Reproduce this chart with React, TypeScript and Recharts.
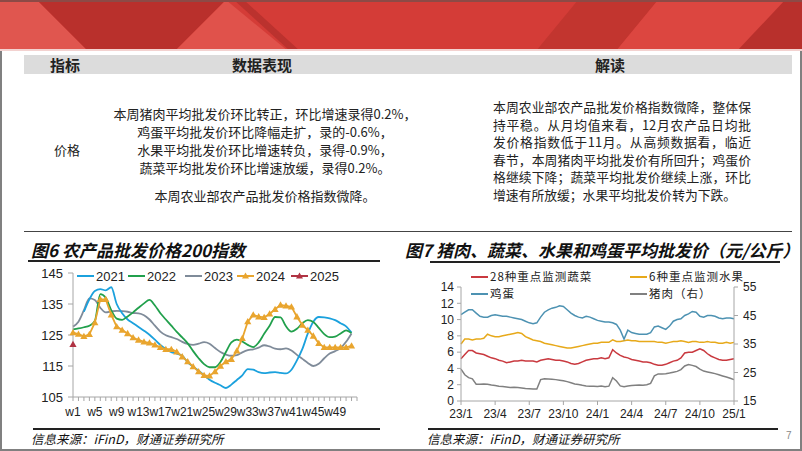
import React from 'react';
import { LineChart, Line, XAxis, YAxis, Legend } from 'recharts';

const SANS = '"Liberation Sans", Arial, sans-serif';
const CJK = '"Noto Sans CJK SC", "Noto Sans", sans-serif';

// 图6 农产品批发价格200指数（按周）
const weeks = Array.from({ length: 53 }, (_, i) => `w${i + 1}`);
const idx2021 = [null, null, 132.5, 136.5, 139.2, 139.8, 139.4, 140.4, 135.0, 132.0, 130.0, 128.8, 127.6, 126.4, 125.1, 123.5, 121.8, 120.5, 119.5, 119.0, 118.3, 116.2, 114.8, 113.5, 112.0, 110.6, 109.6, 108.8, 107.9, 109.0, 110.5, 112.0, 114.0, 113.8, 113.0, 112.7, 112.9, 113.0, 112.8, 112.6, 113.8, 116.8, 120.5, 125.5, 129.3, 130.8, 130.7, 130.4, 129.8, 128.8, 127.8, 125.8, null];
const idx2022 = [126.8, 127.1, 127.5, 128.0, 129.5, 138.2, 137.0, 133.0, 130.3, 129.9, 131.0, 132.3, 133.8, 135.2, 136.3, 134.5, 132.0, 130.0, 128.0, 126.0, 124.2, 122.3, 119.8, 117.5, 115.6, 114.6, 114.6, 116.3, 119.5, 122.6, 123.5, 122.9, 121.8, 121.1, 122.6, 125.4, 128.0, 130.8, 130.7, 127.8, 126.1, 127.0, 128.8, 129.8, 129.2, 127.3, 125.3, 124.3, 124.5, 125.5, 126.5, 125.6, null];
const idx2023 = [127.7, 129.3, 133.0, 136.8, 136.3, 133.8, 132.3, 132.6, 132.8, 132.7, 132.5, 132.1, 132.0, 131.4, 130.0, 128.0, 126.1, 124.9, 124.3, 123.7, 122.8, 122.1, 121.8, 122.2, 122.7, 122.2, 120.8, 119.5, 118.7, 118.3, 118.5, 119.4, 120.1, 120.4, 120.9, 121.7, 121.3, 120.6, 120.4, 120.7, 120.0, 118.6, 117.3, 116.0, 115.0, 115.7, 117.5, 119.0, 119.8, 120.8, 122.8, 125.5, null];
const idx2024 = [125.8, 125.3, 124.6, 125.2, 129.0, 136.5, 136.5, 131.5, 127.7, 126.6, 125.5, 124.2, 123.4, 122.8, 122.5, 121.8, 121.0, 120.4, 120.4, 119.6, 118.0, 116.4, 114.8, 113.2, 112.0, 111.8, 113.2, 115.0, 116.4, 117.2, 119.9, 123.9, 129.3, 131.5, 130.9, 130.7, 131.8, 133.3, 134.7, 134.4, 134.1, 130.9, 128.2, 126.6, 124.7, 122.3, 121.0, 121.0, 121.0, 121.0, 121.0, 121.5, null];
const idx2025 = [122.0];
const indexTicks = [105, 115, 125, 135, 145];
const weekLabels = weeks.filter((_, i) => i % 4 === 0 && i < 52);

const indexData = weeks.map((w, i) => ({
  w,
  y2021: idx2021[i] ?? null,
  y2022: idx2022[i] ?? null,
  y2023: idx2023[i] ?? null,
  y2024: idx2024[i] ?? null,
  y2025: idx2025[i] ?? null,
}));

// 图7 猪肉、蔬菜、水果和鸡蛋平均批发价（约每10天一个读数）
const months = ['23/1', '23/2', '23/3', '23/4', '23/5', '23/6', '23/7', '23/8', '23/9', '23/10', '23/11', '23/12',
  '24/1', '24/2', '24/3', '24/4', '24/5', '24/6', '24/7', '24/8', '24/9', '24/10', '24/11', '24/12', '25/1'];
const days = ['1', '11', '21'];
const dates = months.flatMap((m, i) => (i === months.length - 1 ? [`${m}/1`] : days.map((d) => `${m}/${d}`)));
const quarterTicks = dates.filter((_, i) => i % 9 === 0);

const vegetable = [5.2, 5.7, 6.2, 6.2, 5.9, 5.8, 5.7, 5.5, 5.3, 5.2, 5.0, 4.9, 4.7, 4.8, 4.9, 4.9, 5.0, 4.9, 4.9, 4.9, 4.8, 5.0, 5.1, 5.2, 5.1, 5.0, 5.0, 4.9, 4.8, 4.6, 4.5, 4.6, 4.8, 5.0, 5.1, 5.2, 5.2, 5.3, 5.2, 5.3, 6.3, 5.9, 5.6, 5.4, 5.3, 5.1, 5.0, 4.9, 4.8, 4.8, 4.7, 4.5, 4.4, 4.4, 4.5, 4.7, 4.9, 5.0, 5.3, 5.9, 6.0, 6.0, 6.2, 6.4, 6.2, 5.8, 5.5, 5.3, 5.1, 5.0, 5.0, 5.1, 5.2];
const fruit = [7.0, 7.6, 7.6, 7.5, 7.6, 7.6, 7.7, 8.2, 8.0, 7.9, 7.9, 8.0, 8.1, 8.2, 8.3, 8.4, 8.3, 7.9, 7.7, 7.5, 7.4, 7.3, 7.1, 7.0, 6.9, 6.8, 6.7, 6.6, 6.5, 6.5, 6.6, 6.7, 6.8, 6.9, 7.0, 7.1, 7.1, 7.2, 7.2, 7.2, 7.5, 7.3, 7.3, 7.4, 7.5, 7.4, 7.4, 7.3, 7.3, 7.3, 7.3, 7.3, 7.2, 7.2, 7.1, 7.2, 7.3, 7.3, 7.4, 7.3, 7.2, 7.3, 7.3, 7.2, 7.2, 7.3, 7.2, 7.2, 7.1, 7.1, 7.2, 7.1, 7.2];
const egg = [10.6, 10.9, 11.2, 11.2, 10.8, 10.4, 10.3, 10.3, 10.5, 10.6, 10.5, 10.4, 10.4, 10.3, 10.2, 10.1, 10.0, 9.8, 9.6, 9.5, 9.6, 10.3, 10.9, 11.2, 11.4, 11.5, 11.7, 11.6, 11.2, 10.8, 10.5, 10.3, 10.2, 10.4, 10.3, 10.1, 9.9, 9.8, 9.7, 9.7, 9.6, 9.4, 8.7, 7.6, 8.7, 8.4, 8.3, 8.2, 8.2, 8.2, 8.4, 9.1, 9.2, 9.0, 8.8, 9.2, 9.8, 10.0, 10.1, 10.5, 10.7, 11.0, 10.9, 10.4, 10.3, 10.5, 10.5, 10.4, 10.2, 10.1, 10.2, 10.2, 10.1];
const pork = [26.2, 24.2, 23.2, 22.8, 20.9, 20.9, 21.0, 20.9, 20.6, 20.4, 20.2, 20.1, 19.9, 19.7, 19.8, 19.7, 19.6, 19.4, 19.3, 19.2, 19.2, 22.5, 22.8, 22.7, 22.6, 22.5, 22.3, 22.1, 21.8, 21.4, 21.0, 20.8, 20.5, 20.3, 20.2, 20.2, 20.1, 20.3, 20.0, 20.2, 23.2, 22.0, 20.3, 20.0, 20.3, 20.4, 20.5, 20.6, 20.5, 20.7, 21.2, 23.8, 24.5, 24.5, 24.6, 24.8, 25.1, 25.4, 26.0, 27.3, 27.8, 27.5, 27.1, 26.2, 25.5, 25.2, 24.9, 24.6, 24.2, 23.8, 23.4, 23.0, 22.5];
const leftTicks = [0, 2, 4, 6, 8, 10, 12, 14];
const rightTicks = [15, 25, 35, 45, 55];

const priceData = dates.map((d, i) => ({
  d,
  vegetable: vegetable[i],
  fruit: fruit[i],
  egg: egg[i],
  pork: pork[i],
}));

const C2021 = '#1ba1dd';
const C2022 = '#21a04c';
const C2023 = '#7f8b99';
const C2024 = '#e9a52e';
const C2025 = '#b03343';
const CVEG = '#c9393f';
const CFRUIT = '#e7a91a';
const CEGG = '#4d92b2';
const CPORK = '#808080';
const AXIS = '#a6a6a6';

function triangle(color: string, size = 3.6) {
  return (props: any) => {
    const { cx, cy, value, index } = props;
    if (cx == null || cy == null || value == null) return <g key={index} />;
    return (
      <polygon
        key={index}
        points={`${cx},${cy - size} ${cx - size},${cy + size * 0.75} ${cx + size},${cy + size * 0.75}`}
        fill={color}
      />
    );
  };
}

function WeekTick(props: any) {
  const { x, y, payload } = props;
  if (!weekLabels.includes(payload.value)) return <g />;
  return (
    <text x={x} y={y} dy="0.71em" textAnchor="middle" fontSize={12} fill="#222" fontFamily={SANS}>
      {payload.value}
    </text>
  );
}

type LegendItem = { x: number; y: number; label: string; color: string; mark?: boolean };

function LegendRows({ items, fontSize, family, width, spacing = 0 }: { items: LegendItem[]; fontSize: number; family: string; width: number; spacing?: number }) {
  return (
    <div style={{ position: 'relative', width, height: 40 }}>
      {items.map((it) => (
        <React.Fragment key={it.label}>
          <svg width={18} height={10} style={{ position: 'absolute', left: it.x, top: it.y - 5 }}>
            <line x1={0} x2={17} y1={5} y2={5} stroke={it.color} strokeWidth={2} />
            {it.mark && <polygon points="8.5,1.5 5,7.5 12,7.5" fill={it.color} />}
          </svg>
          <div
            style={{
              position: 'absolute',
              left: it.x + 19,
              top: it.y - 7.5,
              height: 15,
              lineHeight: '15px',
              fontSize,
              letterSpacing: spacing,
              fontFamily: family,
              color: '#222',
              whiteSpace: 'nowrap',
            }}
          >
            {it.label}
          </div>
        </React.Fragment>
      ))}
    </div>
  );
}

const indexLegend: LegendItem[] = [
  { x: 77, y: 9, label: '2021', color: C2021 },
  { x: 128, y: 9, label: '2022', color: C2022 },
  { x: 185, y: 9, label: '2023', color: C2023 },
  { x: 237, y: 9, label: '2024', color: C2024, mark: true },
  { x: 291, y: 9, label: '2025', color: C2025, mark: true },
];
const priceLegend: LegendItem[] = [
  { x: 71, y: 11.5, label: '28种重点监测蔬菜', color: CVEG },
  { x: 230, y: 11.5, label: '6种重点监测水果', color: CFRUIT },
  { x: 71, y: 28.5, label: '鸡蛋', color: CEGG },
  { x: 230, y: 28.5, label: '猪肉（右）', color: CPORK },
];

function Banner() {
  return (
    <svg width={802} height={51} style={{ position: 'absolute', left: 0, top: 0 }}>
      <rect x={0} y={0} width={802} height={51} fill="#d43c37" />
      <polygon points="0,0 37,0 88,51 0,51" fill="#e0564f" />
      <polygon points="37,0 226,0 175,51 88,51" fill="#b9302c" />
      <polygon points="226,0 175,51 288,51" fill="#e0524b" />
      <polygon points="234,0 244,0 300,51 290,51" fill="#bb322e" />
      <polygon points="578,0 658,0 616,51 536,51" fill="#c2352f" />
      <polygon points="658,0 802,0 802,51 616,51" fill="#dc4640" />
      <polygon points="785,0 802,0 802,51 737,51" fill="#b8302c" />
      <rect x={0} y={0} width={802} height={2} fill="#8d4a46" />
      <rect x={0} y={49} width={802} height={2} fill="#f3d2d0" />
    </svg>
  );
}

const cell = (left: number, top: number, width: number, extra: React.CSSProperties = {}): React.CSSProperties => ({
  position: 'absolute',
  left,
  top,
  width,
  height: 17,
  lineHeight: '17px',
  whiteSpace: 'nowrap',
  ...extra,
});

const middleLines = [
  '本周猪肉平均批发价环比转正，环比增速录得0.2%，',
  '鸡蛋平均批发价环比降幅走扩，录的-0.6%，',
  '水果平均批发价环比增速转负，录得-0.9%，',
  '蔬菜平均批发价环比增速放缓，录得0.2%。',
];
const middleTops = [105, 123, 141, 159];
const readingLines = [
  '本周农业部农产品批发价格指数微降，整体保',
  '持平稳。从月均值来看，12月农产品日均批',
  '发价格指数低于11月。从高频数据看，临近',
  '春节，本周猪肉平均批发价有所回升；鸡蛋价',
  '格继续下降；蔬菜平均批发价继续上涨，环比',
  '增速有所放缓；水果平均批发价转为下跌。',
];

export default function App() {
  const titleStyle: React.CSSProperties = {
    position: 'absolute',
    top: 239,
    fontFamily: CJK,
    fontWeight: 700,
    fontStyle: 'italic',
    fontSize: 17,
    lineHeight: '22px',
    color: '#111',
    whiteSpace: 'nowrap',
  };
  const footStyle: React.CSSProperties = {
    position: 'absolute',
    top: 430,
    fontFamily: CJK,
    fontStyle: 'italic',
    fontSize: 12.5,
    lineHeight: '18px',
    color: '#111',
    whiteSpace: 'nowrap',
  };
  const rule = (left: number, top: number, width: number, color = '#222', h = 1.5): React.CSSProperties => ({
    position: 'absolute',
    left,
    top,
    width,
    height: h,
    background: color,
  });

  return (
    <div
      style={{
        position: 'absolute',
        left: 0,
        top: 0,
        width: 802,
        height: 451,
        background: '#fff',
        overflow: 'hidden',
        fontFamily: CJK,
        color: '#222',
      }}
    >
      <Banner />
      <div
        style={{
          position: 'absolute',
          left: 0,
          top: 51,
          width: 802,
          height: 400,
          boxSizing: 'border-box',
          borderLeft: '2px solid #808080',
          borderRight: '2px solid #808080',
          borderBottom: '2px solid #808080',
        }}
      />

      {/* table */}
      <div style={{ position: 'absolute', left: 24, top: 55, width: 768, height: 19, background: '#dcdcdc' }} />
      <div style={cell(35, 56, 60, { textAlign: 'center', fontWeight: 700, fontSize: 15 })}>指标</div>
      <div style={cell(200, 56, 124, { textAlign: 'center', fontWeight: 700, fontSize: 15 })}>数据表现</div>
      <div style={cell(570, 56, 80, { textAlign: 'center', fontWeight: 700, fontSize: 15 })}>解读</div>
      <div style={cell(37, 141, 60, { textAlign: 'center', fontSize: 13 })}>价格</div>
      {middleLines.map((t, i) => (
        <div key={t} style={cell(105, middleTops[i], 320, { textAlign: 'center', fontSize: 13 })}>
          {t}
        </div>
      ))}
      <div style={cell(105, 187, 320, { textAlign: 'center', fontSize: 13 })}>本周农业部农产品批发价格指数微降。</div>
      {readingLines.map((t, i) => (
        <div
          key={t}
          style={cell(493, 98 + i * 17.5, 258, {
            fontSize: 12.8,
            textAlign: i === readingLines.length - 1 ? 'left' : 'justify',
            textAlignLast: i === readingLines.length - 1 ? 'left' : 'justify',
            whiteSpace: 'normal',
            overflow: 'hidden',
          })}
        >
          {t}
        </div>
      ))}
      <div style={rule(24, 231, 768, '#444', 1)} />

      {/* 图6 */}
      <div style={{ ...titleStyle, left: 31 }}>图6 农产品批发价格200指数</div>
      <div style={rule(28, 260, 352)} />
      <div style={{ position: 'absolute', left: 0, top: 260 }}>
        <LineChart width={400} height={167} data={indexData} margin={{ top: 13, right: 43, bottom: 0, left: 8 }}>
          <XAxis
            dataKey="w"
            ticks={weeks}
            interval={0}
            tick={<WeekTick />}
            tickSize={4}
            tickMargin={6}
            height={30}
            stroke={AXIS}
            tickLine={{ stroke: AXIS }}
          />
          <YAxis
            domain={[105, 145]}
            ticks={indexTicks}
            interval={0}
            width={65}
            tickSize={5}
            tickMargin={5}
            stroke={AXIS}
            tick={{ fontSize: 13, fill: '#222', fontFamily: SANS }}
          />
          <Legend
            content={() => <LegendRows items={indexLegend} fontSize={13} family={SANS} width={400} />}
            layout="vertical"
            align="center"
            verticalAlign="middle"
            wrapperStyle={{ left: 0, top: 7, width: 400, height: 18 }}
          />
          <Line dataKey="y2023" stroke={C2023} strokeWidth={1.8} dot={false} isAnimationActive={false} type="monotone" />
          <Line dataKey="y2021" stroke={C2021} strokeWidth={1.8} dot={false} isAnimationActive={false} type="monotone" />
          <Line dataKey="y2022" stroke={C2022} strokeWidth={1.8} dot={false} isAnimationActive={false} type="monotone" />
          <Line
            dataKey="y2024"
            stroke={C2024}
            strokeWidth={1.8}
            dot={triangle(C2024)}
            isAnimationActive={false}
            type="linear"
          />
          <Line
            dataKey="y2025"
            stroke={C2025}
            strokeWidth={1.8}
            dot={triangle(C2025)}
            isAnimationActive={false}
            type="linear"
          />
        </LineChart>
      </div>
      <div style={rule(33, 428, 347)} />
      <div style={{ ...footStyle, left: 31 }}>信息来源：iFinD，财通证券研究所</div>

      {/* 图7 */}
      <div style={{ ...titleStyle, left: 405 }}>图7 猪肉、蔬菜、水果和鸡蛋平均批发价（元/公斤）</div>
      <div style={rule(430, 261, 350)} />
      <div style={{ position: 'absolute', left: 400, top: 265 }}>
        <LineChart width={402} height={161} data={priceData} margin={{ top: 22, right: 18, bottom: 0, left: 8 }}>
          <XAxis
            dataKey="d"
            ticks={quarterTicks}
            interval={0}
            tickFormatter={(v: string) => v.split('/').slice(0, 2).join('/')}
            tickSize={4}
            tickMargin={4.5}
            height={25}
            stroke={AXIS}
            tick={{ fontSize: 12, fill: '#222', fontFamily: SANS }}
          />
          <YAxis
            yAxisId="left"
            domain={[0, 14]}
            ticks={leftTicks}
            interval={0}
            width={53}
            tickSize={4}
            tickMargin={3}
            stroke={AXIS}
            tick={{ fontSize: 12, fill: '#222', fontFamily: SANS }}
          />
          <YAxis
            yAxisId="right"
            orientation="right"
            domain={[15, 55]}
            ticks={rightTicks}
            interval={0}
            width={50}
            tickSize={4}
            tickMargin={5}
            stroke={AXIS}
            tick={{ fontSize: 12, fill: '#222', fontFamily: SANS }}
          />
          <Legend
            content={() => <LegendRows items={priceLegend} fontSize={11.5} spacing={1.0} family={CJK} width={402} />}
            layout="vertical"
            align="center"
            verticalAlign="middle"
            wrapperStyle={{ left: 0, top: 0, width: 402, height: 40 }}
          />
          <Line yAxisId="right" dataKey="pork" stroke={CPORK} strokeWidth={1.5} dot={false} isAnimationActive={false} />
          <Line yAxisId="left" dataKey="vegetable" stroke={CVEG} strokeWidth={1.5} dot={false} isAnimationActive={false} />
          <Line yAxisId="left" dataKey="fruit" stroke={CFRUIT} strokeWidth={1.5} dot={false} isAnimationActive={false} />
          <Line yAxisId="left" dataKey="egg" stroke={CEGG} strokeWidth={1.5} dot={false} isAnimationActive={false} />
        </LineChart>
      </div>
      <div style={rule(428, 428, 350)} />
      <div style={{ ...footStyle, left: 427 }}>信息来源：iFinD，财通证券研究所</div>
      <div style={{ position: 'absolute', left: 786, top: 430, fontSize: 10, color: '#888', fontFamily: SANS }}>7</div>
    </div>
  );
}
